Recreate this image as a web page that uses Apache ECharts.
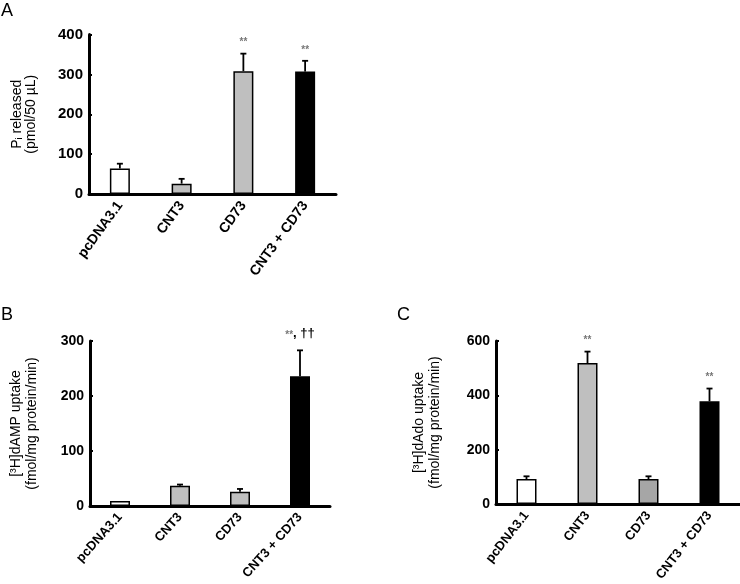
<!DOCTYPE html>
<html>
<head>
<meta charset="utf-8">
<script src="https://cdn.jsdelivr.net/npm/echarts@6/dist/echarts.min.js"></script>
<style>
html,body{margin:0;padding:0;background:#fff;}
#chart{width:740px;height:584px;}
</style>
</head>
<body>
<div id="chart"></div>
<script>
// ---- data ----
const categories = ['pcDNA3.1', 'CNT3', 'CD73', 'CNT3 + CD73'];

const aMean = [64, 26, 308, 307];
const aErr  = [12, 12, 44, 27];
const aMarks = ['', '', '**', '**'];
const aTicks = [0, 100, 200, 300, 400];

const bMean = [9, 37, 26, 236];
const bErr  = [0, 2, 5, 47];
const bMarks = ['', '', '', '**, ††'];
const bTicks = [0, 100, 200, 300];

const cMean = [92, 519, 92, 378];
const cErr  = [10, 42, 10, 47];
const cMarks = ['', '**', '', '**'];
const cTicks = [0, 200, 400, 600];

const aColors = ['#ffffff', '#bfbfbf', '#bfbfbf', '#000000'];
const bColors = ['#ffffff', '#bfbfbf', '#bfbfbf', '#000000'];
const cColors = ['#ffffff', '#bfbfbf', '#a6a6a6', '#000000'];

// ---- chart ----
const FONT = 'Liberation Sans, Arial, sans-serif';
const chart = echarts.init(document.getElementById('chart'), null, {renderer: 'canvas'});

function xAxisFor(gi, rot, fs) {
  return {
    type: 'category', gridIndex: gi, data: categories,
    axisLine: {lineStyle: {color: '#000', width: 3}},
    axisTick: {show: false},
    axisLabel: {rotate: rot, margin: 9, color: '#000', fontFamily: FONT, fontWeight: 'bold', fontSize: fs, interval: 0}
  };
}
function yAxisFor(gi, ticks, name, gap, rich, fs) {
  const mx = ticks[ticks.length - 1];
  return {
    type: 'value', gridIndex: gi, min: 0, max: mx, interval: ticks[1] - ticks[0],
    splitLine: {show: false},
    axisLine: {show: true, lineStyle: {color: '#000', width: 3}},
    axisTick: {show: true, inside: true, length: 3, lineStyle: {color: '#000', width: 2}},
    axisLabel: {color: '#000', fontFamily: FONT, fontWeight: 'bold', fontSize: fs, margin: 6},
    name: name, nameLocation: 'middle', nameRotate: 90, nameGap: gap,
    nameTextStyle: {color: '#000', fontFamily: FONT, fontSize: 14, lineHeight: 15, rich: rich}
  };
}

const richA = {
  a: {fontFamily: FONT, fontSize: 14, color: '#000', lineHeight: 14},
  sub: {fontFamily: FONT, fontSize: 9, color: '#000', verticalAlign: 'bottom', lineHeight: 14, padding: [6, 0, 0, 0]}
};
const richB = {
  a: {fontFamily: FONT, fontSize: 14, color: '#000', lineHeight: 16}
};

function barSeries(gi, mean, colors) {
  return {
    type: 'bar', xAxisIndex: gi, yAxisIndex: gi, barWidth: 20,
    data: mean.map((v, i) => ({value: v, itemStyle: {color: colors[i], borderColor: '#000', borderWidth: 1.5}})),
    animation: false, z: 3
  };
}
function errSeries(gi, mean, err, marks) {
  return {
    type: 'custom', xAxisIndex: gi, yAxisIndex: gi, z: 4, animation: false,
    data: mean.map((v, i) => [i, v, v + err[i], marks[i]]),
    renderItem: function (params, api) {
      const i = api.value(0);
      const base = api.coord([i, api.value(1)]);
      const top = api.coord([i, api.value(2)]);
      const children = [];
      if (top[1] < base[1] - 0.5) {
        children.push({type: 'line', shape: {x1: base[0], y1: base[1], x2: top[0], y2: top[1]}, style: {stroke: '#000', lineWidth: 1.8}});
        children.push({type: 'line', shape: {x1: top[0] - 3, y1: top[1], x2: top[0] + 3, y2: top[1]}, style: {stroke: '#000', lineWidth: 1.8}});
      }
      const mk = marks[i];
      if (mk) {
        const txt = mk === '**' ? '{s|**}' : '{s|**}{c|, ††}';
        children.push({type: 'text', x: top[0], y: top[1] - (mk === '**' ? 11 : 15), style: {
          text: txt, align: 'center', verticalAlign: 'middle',
          rich: {
            s: {fontFamily: FONT, fontSize: 10, fill: '#777', fontWeight: 'bold'},
            c: {fontFamily: FONT, fontSize: 13, fill: '#000', fontWeight: 'bold', padding: [0, 0, 4, 0]}
          }
        }});
      }
      return {type: 'group', children: children};
    }
  };
}

const option = {
  backgroundColor: '#fff',
  animation: false,
  grid: [
    {left: 89, top: 34.5, width: 247, height: 159.5},
    {left: 90, top: 341, width: 240, height: 165},
    {left: 496, top: 341, width: 244, height: 165}
  ],
  xAxis: [xAxisFor(0, 54, 14), xAxisFor(1, 48, 13), xAxisFor(2, 52, 13)],
  yAxis: [
    yAxisFor(0, aTicks, '{a|P}{sub|i}{a| released}\n{a|(pmol/50 µL)}', 51, richA, 15),
    yAxisFor(1, bTicks, '{a|[³H]dAMP uptake}\n{a|(fmol/mg protein/min)}', 50, richB, 14),
    yAxisFor(2, cTicks, '{a|[³H]dAdo uptake}\n{a|(fmol/mg protein/min)}', 53, richB, 14)
  ],
  series: [
    barSeries(0, aMean, aColors), errSeries(0, aMean, aErr, aMarks),
    barSeries(1, bMean, bColors), errSeries(1, bMean, bErr, bMarks),
    barSeries(2, cMean, cColors), errSeries(2, cMean, cErr, cMarks)
  ],
  graphic: [
    {type: 'text', left: 1, top: 2, style: {text: 'A', fontFamily: FONT, fontSize: 18, fill: '#000'}},
    {type: 'text', left: 1, top: 306, style: {text: 'B', fontFamily: FONT, fontSize: 18, fill: '#000'}},
    {type: 'text', left: 397, top: 306, style: {text: 'C', fontFamily: FONT, fontSize: 18, fill: '#000'}}
  ]
};
chart.setOption(option);
</script>
</body>
</html>
